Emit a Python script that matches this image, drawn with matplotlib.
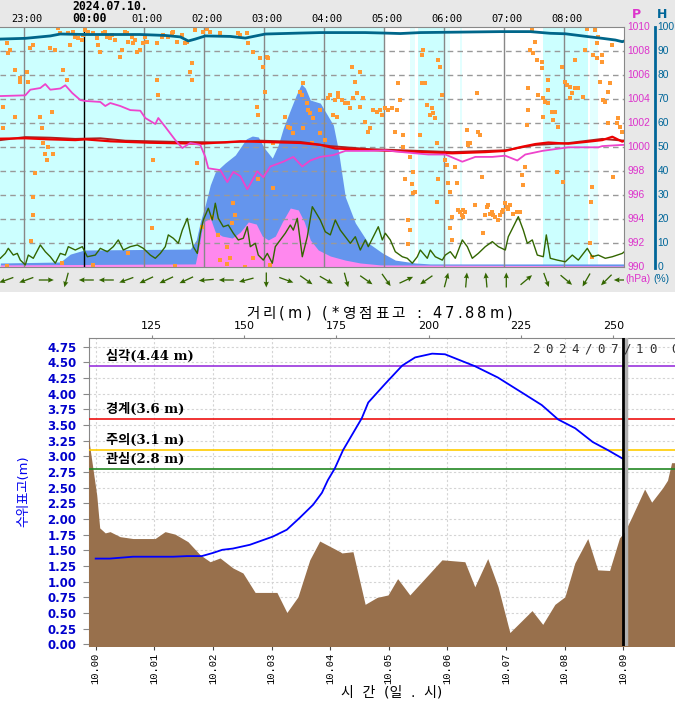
import matplotlib
matplotlib.use("Agg")
import matplotlib.pyplot as plt
import matplotlib.transforms as mtransforms
import numpy as np
from matplotlib.lines import Line2D
from matplotlib.patches import Rectangle

plt.rcParams["font.family"] = ["DejaVu Sans", "Noto Sans CJK KR"]

W, H = 675, 703

# ---------- top panel: weather (minutes from 2024.07.10 00:00) ----------
hum_min = [-84, -59, -34, -24, 1, 26, 56, 81, 96, 104, 111, 121, 146, 161, 181, 216,
           236, 256, 281, 300, 316, 336, 376, 416, 446, 466, 481, 504, 518, 531, 538, 540]
hum_val = [95.1, 95.4, 96.4, 97.2, 97.0, 97.0, 97.0, 96.6, 96.0, 94.3, 95.1, 96.4, 96.2, 95.5, 97.2, 97.6,
           97.8, 97.8, 97.8, 97.6, 97.4, 97.8, 98.0, 98.2, 98.2, 97.5, 97.3, 96.1, 95.4, 94.7, 94.0, 94.3]

pres_min = [-84, -59, -54, -44, -39, -34, -24, -19, -12, -4, 1, 16, 21, 26, 36, 46, 56, 61, 71, 74,
            81, 91, 98, 106, 116, 121, 124, 136, 143, 149, 156, 163, 173, 179, 186, 199, 209, 218, 226, 236,
            249, 261, 284, 301, 318, 344, 361, 378, 391, 408, 421, 433, 441, 458, 484, 514, 518, 538, 540]
pres_val = [1004.27, 1004.33, 1004.8, 1004.94, 1005.27, 1004.8, 1004.9, 1005.17, 1004.52, 1003.94,
            1003.86, 1003.78, 1003.44, 1003.69, 1003.44, 1003.1, 1003.05, 1002.44, 1001.94, 1002.44,
            1001.7, 1000.6, 999.94, 1000.36, 1000.2, 999.2, 998.25, 998.1, 997.1, 997.95,
            997.6, 996.5, 998.0, 997.5, 998.4, 998.8, 999.2, 998.4, 998.9, 999.2,
            999.35, 999.7, 999.7, 999.75, 999.6, 999.4, 999.4, 998.8, 999.2, 999.2,
            999.3, 998.9, 999.4, 999.7, 1000.0, 1000.0, 1000.1, 1000.2, 1000.2]

red_min = [-84, -59, -34, -9, 1, 26, 66, 116, 156, 176, 216, 236, 246, 251, 284,
           368, 401, 421, 438, 451, 464, 484, 504, 518, 528, 538, 540]
red_val = [1000.72, 1000.75, 1000.66, 1000.6, 1000.66, 1000.5, 1000.38, 1000.3, 1000.5, 1000.45,
           1000.36, 1000.2, 1000.0, 999.9, 999.78, 999.5, 999.6, 999.7, 1000.05, 1000.27,
           1000.4, 1000.3, 1000.47, 1000.6, 1000.88, 1000.47, 1000.55]

dred_min = [-84, -59, -34, -9, 16, 41, 91, 141, 176, 216, 246, 284, 368, 421, 451, 484, 518, 540]
dred_val = [1000.6, 1000.85, 1000.8, 1000.7, 1000.75, 1000.55, 1000.45, 1000.4, 1000.55,
            1000.45, 1000.1, 999.85, 999.6, 999.75, 1000.2, 1000.35, 1000.7, 1000.55]

blue_min = [-84, -24, -14, 0, 106, 112, 116, 121, 126, 131, 141, 151, 162, 168, 174, 180, 188, 194,
            199, 206, 212, 217, 221, 226, 236, 249, 254, 261, 271, 284, 298, 311, 331, 346, 540]
blue_val = [1.8, 2.2, 5.5, 7.2, 7.6, 11.4, 18.9, 26, 34.3, 39.7, 43.5, 46.8, 53.5, 54.7, 54.3, 49.7, 45.5, 51,
            58, 65.5, 71.8, 76.4, 74.7, 69.7, 68.4, 59.3, 48.9, 29.3, 18.5, 10.1, 6.0, 3.0, 1.8, 1.4, 1.4]

pink_min = [-84, 111, 114, 119, 126, 131, 138, 148, 156, 164, 172, 178, 184, 191, 198,
            206, 214, 220, 226, 234, 246, 261, 276, 296, 540]
pink_val = [1.0, 1.4, 7.2, 18.9, 20.5, 14.7, 13, 12.2, 14.7, 18.9, 18, 13, 11.4, 13, 18.9,
            24.7, 23.9, 18.9, 11.4, 7.2, 4.7, 3.0, 1.8, 1.0, 0.6]

spd_min = [-84, -79, -76, -71, -67, -64, -59, -56, -51, -44,
           -39, -34, -29, -24, -19, -16, -9, -2, 3, 11,
           16, 23, 29, 34, 39, 46, 53, 59, 66, 71,
           76, 81, 84, 89, 94, 98, 103, 106, 109, 113,
           116, 119, 124, 128, 131, 134, 139, 144, 149, 154,
           159, 163, 166, 171, 174, 179, 183, 188, 191, 196,
           201, 206, 209, 213, 218, 223, 228, 231, 236, 241,
           246, 251, 256, 261, 266, 271, 276, 281, 284, 289,
           294, 298, 301, 306, 311, 318, 323, 328, 333, 336,
           343, 346, 351, 358, 361, 366, 371, 378, 383, 388,
           394, 401, 408, 414, 421, 424, 429, 434, 439, 443,
           448, 453, 459, 462, 466, 473, 481, 488, 494, 503,
           508, 514, 521, 528, 533, 538, 540]
spd_val = [3.75, 5.8, 7.9, 5.1, 5.8, 3.0, 1.0, 5.1, 3.75, 9.3,
           6.5, 4.4, 1.7, 5.8, 5.1, 8.6, 7.2, 8.6, 4.4, 5.1,
           7.9, 6.5, 8.6, 11.4, 7.2, 8.6, 9.3, 7.9, 5.1, 3.75,
           5.8, 8.6, 13.5, 12.1, 10.0, 15.5, 20.4, 14.2, 8.6, 5.8,
           14.2, 19.7, 24.6, 19.7, 26.7, 20.4, 16.9, 17.6, 14.2, 11.4,
           12.1, 16.9, 8.6, 10.0, 5.1, 3.0, 5.8, 1.7, 8.6, 11.4,
           14.2, 17.6, 15.5, 20.4, 4.4, 12.75, 25.25, 23.2, 19.7, 14.8,
           13.5, 19.7, 15.5, 12.75, 10.0, 12.75, 7.2, 11.4, 8.6, 12.75,
           16.9, 11.4, 14.2, 11.4, 6.5, 4.4, 3.75, 1.7, 4.4, 7.2,
           3.75, 7.2, 4.4, 3.0, 5.1, 6.5, 3.75, 11.4, 8.6, 3.75,
           5.8, 8.6, 10.7, 8.6, 7.2, 12.75, 16.9, 21.1, 15.5, 10.0,
           11.4, 5.1, 4.4, 13.5, 3.75, 3.0, 2.3, 5.1, 3.0, 7.9,
           4.4, 5.1, 3.75, 4.4, 5.1, 5.8, 6.5]

dot_min = [-77, -74, -76, -69, -64, -64, -57, -54, -51, -56,
           -81, -69, -81, -44, -42, -41, -36, -32, -34, -29,
           -26, -24, -21, -17, -16, -14, -11, -9, -6, -2,
           -1, 1, 4, 9, 13, 14, 16, 19, 21, 23,
           26, 28, 31, 36, 38, 41, 43, 44, 48, 49,
           51, 53, 56, 59, 61, 63, 73, 78, 79, 84,
           88, 89, 93, 98, 101, 103, 108, 106, 108, 73,
           74, 111, 119, 123, 126, 136, 154, 156, 163, 164,
           169, 176, 179, 181, 173, 174, 183, 184, 201, 204,
           206, 209, 216, 218, 219, 223, 226, 229, 236, 244,
           246, 251, 254, 249, 253, 241, 236, 228, 219, 224,
           -41, -39, -37, -31, -49, -51, -51, -53, -77, -22,
           9, 44, 68, 69, 91, 113, 118, 128, 134, 136,
           143, 146, 148, 149, 151, 143, 161, 169, 174, 189,
           189, 186,
           268, 271, 276, 273, 269, 279, 254, 258, 261, 264,
           266, 276, 281, 284, 286, 289, 293, 296, 298, 301,
           304, 308, 313, 316, 314, 311, 319, 339, 338, 338,
           341, 343, 348, 349, 351, 346, 354, 356, 358, 353,
           336, 383, 384, 394, 396, 393, 448, 451, 446, 449,
           453, 458, 458, 464, 444, 454, 459, 461, 464, 464,
           468, 471, 469, 474, 444, 443, 459, 478, 481, 483,
           486, 486, 488, 491, 491, 494, 499, 501, 503, 511,
           513, 514, 509, 513, 518, 518, 516, 528, 526, 524,
           519, 521, 534, 533, 524, 538, 536,
           319, 326, 329, 331, 329, 328, 321, 324, 326, 324,
           353, 354, 361, 363, 364, 366, 368, 366, 368, 373,
           371, 374, 376, 378, 379, 381, 379, 384, 386, 391,
           398, 399, 401, 403, 404, 406, 408, 409, 411, 414,
           416, 418, 419, 421, 423, 424, 426, 429, 433, 436,
           439, 441, 438, 473, 479, 508, 507, 506, 529, 508]
dot_val = [93.3, 90.6, 89.2, 82.2, 78.8, 77.4, 81.5, 91.3, 92.6, 77.4,
           67.0, 62.8, 57.9, 62.8, 57.9, 51.7, 50.3, 64.9, 91.3, 90.6,
           99.6, 97.5, 82.2, 78.1, 97.5, 92.6, 98.2, 96.1, 95.4, 94.7,
           96.8, 98.9, 98.2, 97.5, 95.4, 92.6, 89.9, 97.5, 98.2, 96.1,
           95.4, 96.8, 94.7, 87.8, 90.6, 98.2, 97.5, 94.0, 96.1, 93.3,
           94.7, 89.9, 90.6, 93.3, 96.1, 94.0, 93.3, 96.1, 96.8, 96.1,
           97.5, 98.2, 94.0, 96.8, 93.3, 94.0, 85.0, 81.5, 78.1, 78.1,
           71.8, 99.0, 98.2, 99.2, 98.2, 97.5, 97.5, 96.8, 97.5, 93.3,
           89.9, 87.1, 83.6, 73.2, 67.0, 63.5, 87.8, 87.1, 62.8, 58.6,
           57.9, 55.8, 73.2, 71.8, 76.7, 68.3, 64.2, 62.1, 65.6, 70.4,
           71.8, 69.7, 72.5, 63.5, 62.8, 53.1, 55.8, 51.7, 57.9, 65.6,
           51.6, 47.4, 44.7, 47.4, 39.1, 29.4, 21.8, 10.9, 0.5, 1.6,
           0.9, 5.8, 16.2, 44.7, 0.5, 43.3, 16.9, 21.1, 13.4, 3.0,
           1.3, 3.7, 18.3, 26.6, 21.8, 8.6, 0.2, 3.7, 37.0, 32.9,
           51.6, 0.9,
           83.6, 77.4, 81.5, 72.5, 70.4, 70.4, 71.1, 69.7, 68.3, 68.3,
           66.3, 67.0, 60.7, 56.5, 57.9, 65.6, 64.9, 65.6, 63.5, 66.3,
           65.6, 66.3, 65.6, 69.7, 76.7, 56.5, 55.1, 90.6, 88.5, 76.7,
           76.7, 67.6, 66.3, 64.2, 62.1, 63.5, 86.4, 83.6, 71.8, 51.7,
           55.1, 57.2, 51.7, 56.5, 55.1, 72.5, 99.0, 94.0, 90.6, 89.2,
           86.4, 85.7, 82.9, 78.1, 74.6, 71.8, 70.4, 69.0, 73.9, 68.3,
           64.9, 64.9, 61.4, 58.6, 65.6, 59.3, 62.8, 83.6, 77.4, 76.0,
           75.3, 70.4, 72.5, 86.4, 74.6, 74.6, 71.1, 90.6, 99.3, 98.9,
           93.3, 96.1, 88.5, 87.1, 88.5, 85.7, 77.4, 92.6, 76.7, 73.2,
           69.7, 69.0, 62.1, 60.0, 60.0, 56.5, 58.6,
           50.2, 46.1, 39.8, 31.5, 30.8, 34.9, 37.0, 19.7, 15.5, 9.9,
           27.3, 37.0, 44.7, 42.6, 35.0, 31.5, 21.1, 16.2, 11.3, 35.0,
           41.9, 23.8, 23.1, 21.8, 21.1, 23.1, 23.8, 50.9, 51.6, 25.9,
           37.7, 14.1, 21.8, 25.2, 25.9, 22.4, 23.1, 21.8, 21.1, 19.7,
           21.8, 23.1, 23.8, 26.6, 25.2, 24.5, 25.9, 22.4, 23.1, 23.1,
           34.3, 41.9, 38.4, 39.8, 35.6, 33.6, 27.3, 10.0, 37.7, 4.4]

wind_min = [-78, -58, -38, -18, 2, 22, 42, 62, 82, 102, 122, 142, 162, 182, 202, 222,
            242, 262, 282, 302, 322, 342, 362, 382, 402, 422, 442, 462, 482, 502, 522, 537]
wind_deg = [200, 200, 0, 255, 180, 180, 200, 205, 205, 205, 185, 180, 195, 270, 340, 325,
            330, 285, 325, 305, 25, 215, 75, 85, 95, 90, 40, 290, 320, 240, 225, 180]

cyan_start = [-85, 334, 459]
cyan_end = [300, 361, 504]
pale_start = [326, 361, 376, 506]
pale_end = [331, 366, 378, 514]

hour_min = [-60, 0, 60, 120, 180, 240, 300, 360, 420, 480]
hour_lab = ["23:00", "00:00", "01:00", "02:00", "03:00", "04:00", "05:00", "06:00", "07:00", "08:00"]

# ---------- bottom panel: cross section and water level ----------
dist_m = [107.5, 110.1, 110.9, 112.4, 113.7, 116.4, 119.9, 125.9, 128.6, 131.3,
          134.8, 138.1, 140.8, 143.5, 147.0, 149.7, 153.0, 158.9, 161.6, 164.6,
          167.8, 170.5, 176.0, 176.5, 179.5, 182.8, 186.0, 189.0, 191.6, 194.9,
          203.6, 209.8, 212.5, 216.0, 218.8, 222.0, 228.0, 230.9, 234.2, 236.9,
          239.6, 243.1, 245.8, 249.0, 251.7, 253.1, 255.0, 258.5, 260.4, 263.4,
          264.7, 265.8, 274.0]
ground_m = [3.45, 2.38, 1.86, 1.78, 1.80, 1.72, 1.69, 1.69, 1.80, 1.76,
            1.64, 1.43, 1.32, 1.38, 1.22, 1.14, 0.83, 0.83, 0.51, 0.76,
            1.35, 1.65, 1.48, 1.46, 1.48, 0.64, 0.75, 0.79, 1.05, 0.79,
            1.35, 1.32, 0.92, 1.37, 0.92, 0.19, 0.54, 0.32, 0.64, 0.76,
            1.30, 1.69, 1.19, 1.18, 1.70, 1.80, 2.03, 2.48, 2.27, 2.50,
            2.62, 2.90, 2.90]

level_hr = [0.0, 0.24, 0.64, 1.32, 1.56, 1.81, 2.00, 2.16, 2.34, 2.63,
            3.02, 3.26, 3.48, 3.71, 3.86, 3.96, 4.08, 4.22, 4.54, 4.65,
            4.94, 5.23, 5.45, 5.74, 5.96, 6.47, 6.86, 7.27, 7.61, 7.89,
            8.18, 8.48, 8.74, 9.0]
level_m = [1.37, 1.37, 1.40, 1.40, 1.41, 1.41, 1.46, 1.51, 1.53, 1.59,
           1.72, 1.83, 2.02, 2.23, 2.42, 2.62, 2.81, 3.10, 3.61, 3.86,
           4.16, 4.45, 4.58, 4.64, 4.63, 4.44, 4.26, 4.02, 3.82, 3.59,
           3.45, 3.23, 3.10, 2.96]

alert_val = [4.44, 3.6, 3.1, 2.8]
alert_lab = ["심각(4.44 m)", "경계(3.6 m)", "주의(3.1 m)", "관심(2.8 m)"]
alert_col = ["#9933dd", "#ee1111", "#ffcc00", "#228822"]
now_hr = 9.0

MAGENTA = "#dd33cc"
TEAL = "#006699"


def fx(px):
    return px / W


def fy(py):
    return 1 - py / H


fig = plt.figure(figsize=(W / 100, H / 100), dpi=100)
renderer = fig.canvas.get_renderer()


def spaced_text(x, y, s, tracking, **kw):
    """letter-spaced text, x/y in pixels (y = baseline)"""
    size = kw.get("fontsize", 10)
    for ch in s:
        if ch == " ":
            x += size * 0.32 * 100 / 72 + tracking
            continue
        t = fig.text(fx(x), fy(y), ch, ha="left", va="baseline", **kw)
        x += t.get_window_extent(renderer).width + tracking


fig.add_artist(Rectangle((0, fy(292)), 1, 1 - fy(292), transform=fig.transFigure,
                         facecolor="#e8e8e8", edgecolor="none", zorder=-10))

# ---- weather chart ----
ax = fig.add_axes([0, fy(267.3), fx(624.3), (267.3 - 27.3) / H])
ax.set_xlim(-84.3, 540)
ax.set_ylim(0, 100)
ax.set_xticks([])
ax.set_yticks([])
for s in ax.spines.values():
    s.set_color("#888888")
ax.spines["left"].set_visible(False)

for a, b in zip(cyan_start, cyan_end):
    ax.axvspan(a, b, color="#ccffff", lw=0, zorder=0.5)
for a, b in zip(pale_start, pale_end):
    ax.axvspan(a, b, color="#e2ffff", lw=0, zorder=0.5)

ax.fill_between(blue_min, blue_val, color="#6495ed", lw=0, zorder=1)
ax.fill_between(pink_min, pink_val, color="#ff88ee", lw=0, zorder=1.1)

for v in range(10, 100, 10):
    ax.axhline(v, color="#999999", lw=1, ls=(0, (4, 3)), zorder=1.5)
for m in hour_min:
    ax.axvline(m, color="black" if m == 0 else "#888888", lw=1, zorder=1.6)

n = min(len(dot_min), len(dot_val))
ax.scatter(dot_min[:n], dot_val[:n], marker="s", s=7, color="#ff9933", lw=0, zorder=1.8)
ax.plot(spd_min, spd_val, color="#336600", lw=1, zorder=2)
ax.plot(hum_min, hum_val, color="#00668a", lw=2, zorder=2.4)

axp = ax.twinx()
axp.set_ylim(990, 1010)
axp.axis("off")
axp.plot(dred_min, dred_val, color="#aa2222", lw=1.4)
axp.plot(red_min, red_val, color="#ee0000", lw=1.6)
axp.plot(pres_min, pres_val, color="#ee44cc", lw=1.3)

# time labels on top
trans = mtransforms.blended_transform_factory(ax.transData, fig.transFigure)
for m, lab in zip(hour_min, hour_lab):
    if m == 0:
        continue
    ax.text(m + 2.5, fy(19), lab, transform=trans, ha="center", va="center",
            family="DejaVu Sans Mono", fontsize=7.5, clip_on=False)
ax.text(-12.3, fy(19), "00:00", transform=trans, ha="left", va="center",
        family="DejaVu Sans Mono", fontsize=8.3, weight="bold", clip_on=False)
ax.text(-12.3, fy(6), "2024.07.10.", transform=trans, ha="left", va="center",
        family="DejaVu Sans Mono", fontsize=8.3, weight="bold", clip_on=False)

# right side scales
for i in range(11):
    ypx = 267.3 - i * 24
    fig.text(fx(627), fy(ypx), str(990 + 2 * i), color=MAGENTA, fontsize=7.4,
             family="Liberation Sans", va="center")
    fig.text(fx(657.5), fy(ypx), str(10 * i), color=TEAL, fontsize=7.4,
             family="Liberation Sans", va="center")
fig.add_artist(Line2D([fx(655), fx(655)], [fy(27), fy(268)], color=TEAL, lw=2,
                      transform=fig.transFigure))
fig.text(fx(636), fy(15), "P", color=MAGENTA, fontsize=9, weight="bold", ha="center", va="center")
fig.text(fx(662), fy(15), "H", color=TEAL, fontsize=9, weight="bold", ha="center", va="center")
fig.text(fx(625), fy(279), "(hPa)", color=MAGENTA, fontsize=7.4, family="Liberation Sans", va="center")
fig.text(fx(653), fy(279), "(%)", color=TEAL, fontsize=7.4, family="Liberation Sans", va="center")

# wind arrows
axw = fig.add_axes([0, fy(292), fx(624.3), 24 / H])
axw.set_xlim(-84.3, 540)
axw.set_ylim(0, 1)
axw.axis("off")
ang = np.deg2rad(wind_deg)
axw.quiver(wind_min, np.full(len(wind_min), 0.5), np.cos(ang), np.sin(ang),
           angles="uv", scale_units="dots", scale=1 / 15, units="dots", width=1.3,
           headwidth=4, headlength=4.5, headaxislength=4, pivot="middle", color="#336600")

# ---- cross section chart ----
rect = [fx(89), fy(645.7), fx(700) - fx(89), (645.7 - 338.3) / H]
tlim = (-0.114, 10.31)
ylim = (-0.02, 4.885)

axg = fig.add_axes(rect, label="grid")
axg.set_xlim(*tlim)
axg.set_ylim(*ylim)
yt = np.arange(0, 4.76, 0.25)
axg.set_yticks(yt)
axg.set_yticklabels([f"{v:.2f}" for v in yt], color="#0000cc", weight="bold", fontsize=8.5)
axg.set_xticks(range(11))
axg.set_xticklabels([f"10.{h:02d}" for h in range(11)], rotation=90,
                    family="Liberation Mono", fontsize=7.6)
axg.grid(True, color="#d4d4d4", ls=(0, (2, 2)), lw=0.8)
axg.tick_params(axis="y", length=4, color="#888888", pad=5)
axg.tick_params(axis="x", length=3, color="#444444", pad=2)
for side in ("right", "bottom"):
    axg.spines[side].set_visible(False)
for side in ("left", "top"):
    axg.spines[side].set_color("#888888")

axd = fig.add_axes(rect, label="terrain")
axd.patch.set_visible(False)
axd.set_xlim(108.0, 273.5)
axd.set_ylim(*ylim)
axd.fill_between(dist_m, ground_m, -1, color="#98704c", lw=0)
axd.xaxis.tick_top()
axd.set_xticks(range(125, 251, 25))
axd.tick_params(axis="x", length=2, pad=3, labelsize=8, color="#888888")
axd.set_yticks([])
for s in axd.spines.values():
    s.set_visible(False)

axt = fig.add_axes(rect, label="level")
axt.set_xlim(*tlim)
axt.set_ylim(*ylim)
axt.axis("off")
for v, lab, c in zip(alert_val, alert_lab, alert_col):
    axt.axhline(v, color=c, lw=1.2)
    axt.text(0.18, v + 0.15, lab, va="center", ha="left", fontsize=9.5, weight="bold",
             family=["DejaVu Serif", "Noto Sans CJK KR"])
axt.plot(level_hr, level_m, color="#0000ff", lw=1.3)
axt.axvline(now_hr + 0.04, color="#b0b0b0", lw=2.5)
axt.axvline(now_hr, color="black", lw=2)

spaced_text(532, 353, "2024/07/10 09:00", 5.5, fontsize=9, family="DejaVu Sans Mono", color="#333333")
spaced_text(246, 318, "거리(m) (*영점표고 : 47.88m)", 3.2, fontsize=10.5)
fig.text(fx(392), fy(693), "시  간  (일  .  시)", ha="center", va="center", fontsize=10)
fig.text(fx(24), fy(491), "수위표고(m)", rotation=90, ha="center", va="center",
         fontsize=9.5, color="#0000ee")

fig.savefig("out.png", dpi=100)
